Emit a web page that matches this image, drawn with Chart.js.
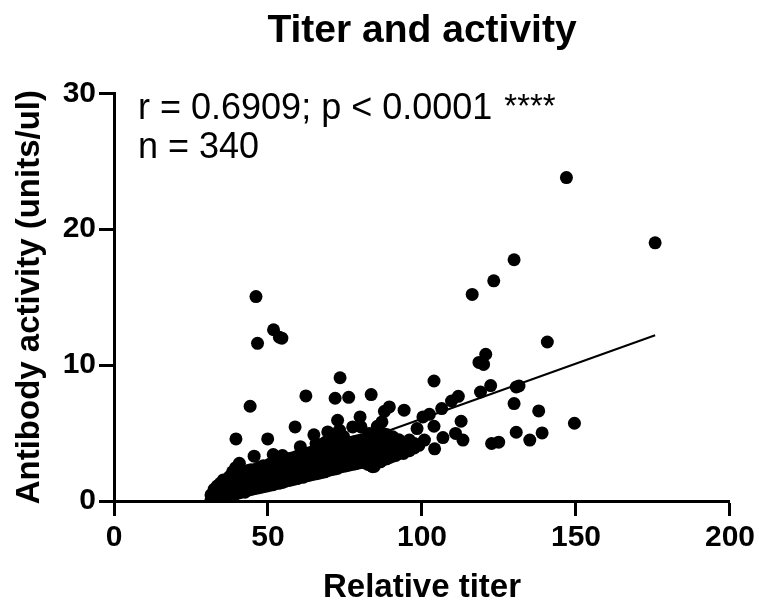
<!DOCTYPE html>
<html>
<head>
<meta charset="utf-8">
<title>Titer and activity</title>
<script src="https://cdn.jsdelivr.net/npm/chart.js@4.4.1/dist/chart.umd.min.js"></script>
<style>
  html, body { margin: 0; padding: 0; background: #fff; }
</style>
</head>
<body>
<canvas id="scatter" width="759" height="609"></canvas>
<script>
// dense band: one titer per column, the activities stacked in it
var columnTiter = [31.5, 32.5, 33.5, 34.5, 35.5, 36.5, 37.5, 38.5, 39.5, 40.7,
    41.5, 42.5, 43.5, 44.5, 45.5, 46.5, 47.5, 48.5, 49.5, 50.5,
    51.7, 52.5, 53.5, 54.7, 55.5, 56.5, 57.5, 58.5, 59.5, 60.5,
    61.5, 62.5, 63.5, 64.5, 65.5, 66.5, 67.5, 68.5, 69.5, 70.5,
    71.5, 72.5, 73.5, 74.5, 75.5, 76.5, 77.5, 78.5, 79.5, 80.5,
    81.5, 82.5, 83.5, 84.5, 85.5, 86.5, 87.5, 88.5, 89.5, 90.5,
    91.5, 92.5, 94, 95.9, 97.5, 99, 100.8];
var columnActivity = [
    [0.1, 0.45], [0.3, 0.86], [0.2, 0.6, 1.1], [0.35, 0.8, 1.3], [0.3, 0.7, 1.15, 1.55],
    [0.45, 0.9, 1.4], [0.4, 0.8, 1.25, 1.8], [0.55, 1.0, 1.5, 2.15], [0.5, 0.95, 1.4, 1.85, 2.45], [0.6, 1.05, 1.5, 2.0, 2.77],
    [0.7, 1.2, 1.7, 2.2], [0.65, 1.1, 1.55, 2.05], [0.8, 1.25, 1.7, 2.25], [0.85, 1.35, 1.8, 2.3], [0.9, 1.3, 1.75, 2.2, 3.3],
    [0.95, 1.45, 1.9, 2.4], [1.0, 1.5, 2.0, 2.5], [1.05, 1.55, 2.1, 2.6], [1.1, 1.6, 2.05, 2.55], [1.15, 1.65, 2.15, 2.7],
    [1.2, 1.7, 2.2, 2.75, 3.42], [1.3, 1.75, 2.3, 2.85], [1.3, 1.8, 2.35, 2.9], [1.37, 1.9, 2.4, 3.0, 3.35], [1.45, 1.95, 2.45, 2.95],
    [1.5, 2.0, 2.55, 3.1], [1.55, 2.05, 2.6, 3.15], [1.6, 2.1, 2.65, 3.2], [1.65, 2.15, 2.7, 3.3], [1.75, 2.25, 2.75, 3.35],
    [1.75, 2.3, 2.8, 3.4], [1.85, 2.35, 2.9, 3.5], [1.9, 2.4, 2.95, 3.55], [1.95, 2.45, 3.0, 3.6], [2.0, 2.5, 3.05, 3.7],
    [2.05, 2.55, 3.1, 3.75], [2.1, 2.65, 3.2, 3.85], [2.15, 2.7, 3.25, 3.9, 4.3], [2.25, 2.75, 3.3, 3.95], [2.3, 2.8, 3.35, 4.0, 4.5],
    [2.35, 2.9, 3.45, 4.1], [2.4, 2.95, 3.5, 4.15, 4.7], [2.5, 3.0, 3.55, 4.2], [2.55, 3.05, 3.6, 4.25, 4.75], [2.6, 3.1, 3.65, 4.2],
    [2.65, 3.15, 3.7, 4.3], [2.7, 3.2, 3.75, 4.35], [2.75, 3.3, 3.8, 4.4], [2.8, 3.35, 3.85, 4.45], [2.85, 3.4, 3.9, 4.5],
    [2.8, 3.35, 3.95, 4.55], [2.7, 3.3, 3.9, 4.6], [2.6, 3.25, 3.95, 4.7], [2.55, 3.4, 4.05, 4.8], [2.9, 3.5, 4.1, 4.75],
    [2.88, 3.55, 4.2, 4.85], [3.05, 3.6, 4.3, 4.95], [3.1, 3.5, 4.35, 4.9], [3.2, 3.75, 4.4], [3.3, 3.85, 4.48, 4.72],
    [3.35, 3.9, 4.45], [3.5, 3.98, 4.5], [3.5, 4.1], [3.7, 4.48], [3.9, 4.23], [4.1], [4.48]
];

// points standing apart from the band
var spreadTiter = [46.1, 51.8, 54.5, 53.7, 46.6, 73.4, 62.3, 71.8, 76.2, 83.5,
    44.2, 89.4, 87.8, 87.0, 79.9, 72.6, 58.8, 64.9, 39.6, 49.9,
    80.2, 73.2, 84.0, 69.4, 77.5, 82.9, 65.6, 60.5, 85.5, 175.7,
    129.9, 123.3, 116.3, 140.7, 120.7, 118.5, 120.0, 103.9, 122.3, 119.0,
    130.6, 131.5, 111.8, 109.6, 94.2, 106.4, 129.9, 137.9, 149.5, 100.3,
    102.4, 112.7, 103.9, 98.4, 106.8, 110.9, 113.3, 122.6, 124.9, 130.6,
    135.0, 139.0, 104.1, 146.9];
var spreadActivity = [15.04, 12.6, 11.98, 12.05, 11.6, 9.07, 7.73, 7.56, 7.63, 7.83,
    6.97, 6.92, 6.6, 5.82, 6.19, 5.94, 5.45, 4.87, 4.57, 4.57,
    5.45, 5.21, 2.52, 5.08, 5.45, 4.97, 4.23, 4.0, 5.5, 19.0,
    17.75, 16.2, 15.2, 11.7, 10.8, 10.2, 10.05, 8.83, 8.49, 8.02,
    8.39, 8.46, 7.7, 7.36, 6.68, 6.8, 7.17, 6.63, 5.72, 6.19,
    6.38, 5.87, 5.5, 5.33, 4.67, 4.97, 4.48, 4.23, 4.33, 5.06,
    4.48, 5.01, 3.84, 23.8];

// regression line ends
var fitTiter = [31.5, 175.7];
var fitActivity = [0.5, 12.2];

var xTicks = [0, 50, 100, 150, 200];
var yTicks = [0, 10, 20, 30];

var statLines = ['r = 0.6909; p < 0.0001', 'n = 340'];
var statStars = '****';

var points = [];
for (var i = 0; i < columnTiter.length; i++) {
    for (var j = 0; j < columnActivity[i].length; j++) {
        points.push({x: columnTiter[i], y: columnActivity[i][j]});
    }
}
for (i = 0; i < spreadTiter.length; i++) {
    points.push({x: spreadTiter[i], y: spreadActivity[i]});
}
var fitLine = fitTiter.map(function (t, k) { return {x: t, y: fitActivity[k]}; });

var fontFamily = 'Arial, "Liberation Sans", sans-serif';
Chart.defaults.font.family = fontFamily;
Chart.defaults.color = '#000';

// r / n text in the upper left of the plot
var statsLabel = {
    id: 'statsLabel',
    afterDraw: function (chart) {
        var c = chart.ctx;
        var left = chart.chartArea.left + 24;
        var top = chart.chartArea.top;
        c.save();
        c.fillStyle = '#000';
        c.textBaseline = 'alphabetic';
        c.font = '36px ' + fontFamily;
        c.fillText(statLines[0], left, top + 26);
        var w = c.measureText(statLines[0]).width;
        c.fillText(statLines[1], left, top + 65);
        c.font = '33px ' + fontFamily;
        c.fillText(statStars, left + w + 12, top + 24);
        c.restore();
    }
};

function axisStyle(ticks, titleText, titlePadding, ticksPadding) {
    return {
        type: 'linear',
        min: ticks[0],
        max: ticks[ticks.length - 1],
        afterBuildTicks: function (s) {
            s.ticks = ticks.map(function (v) { return {value: v}; });
        },
        ticks: {
            font: {size: 30, weight: 'bold'},
            color: '#000',
            padding: ticksPadding
        },
        grid: {
            display: true,
            drawOnChartArea: false,
            drawTicks: true,
            tickLength: 15,
            tickWidth: 3,
            tickColor: '#000'
        },
        border: {display: true, color: '#000', width: 3},
        title: {
            display: true,
            text: titleText,
            color: '#000',
            font: {size: 33, weight: 'bold'},
            padding: titlePadding
        }
    };
}

var xScale = axisStyle(xTicks, 'Relative titer', {top: 0, bottom: 1}, 4);
xScale.afterFit = function (s) { s.height = 108; };
var yScale = axisStyle(yTicks, 'Antibody activity (units/ul)', {top: 10, bottom: 0}, 3);
yScale.afterFit = function (s) { s.width = 114; };

var chart = new Chart(document.getElementById('scatter').getContext('2d'), {
    type: 'scatter',
    data: {
        datasets: [{
            label: 'Samples',
            data: points,
            backgroundColor: '#000',
            borderColor: '#000',
            borderWidth: 0,
            pointRadius: 6.5,
            pointHoverRadius: 6.5
        }, {
            label: 'Fit',
            data: fitLine,
            showLine: true,
            borderColor: '#000',
            borderWidth: 2,
            pointRadius: 0,
            fill: false
        }]
    },
    options: {
        responsive: false,
        animation: false,
        devicePixelRatio: 1,
        layout: {padding: {left: 0, right: 29, top: 0, bottom: 0}},
        plugins: {
            legend: {display: false},
            tooltip: {enabled: false},
            title: {
                display: true,
                text: 'Titer and activity',
                color: '#000',
                fullSize: false,
                font: {size: 39, weight: 'bold'},
                padding: {top: 8, bottom: 38.5}
            }
        },
        scales: {x: xScale, y: yScale}
    },
    plugins: [statsLabel]
});
</script>
</body>
</html>
